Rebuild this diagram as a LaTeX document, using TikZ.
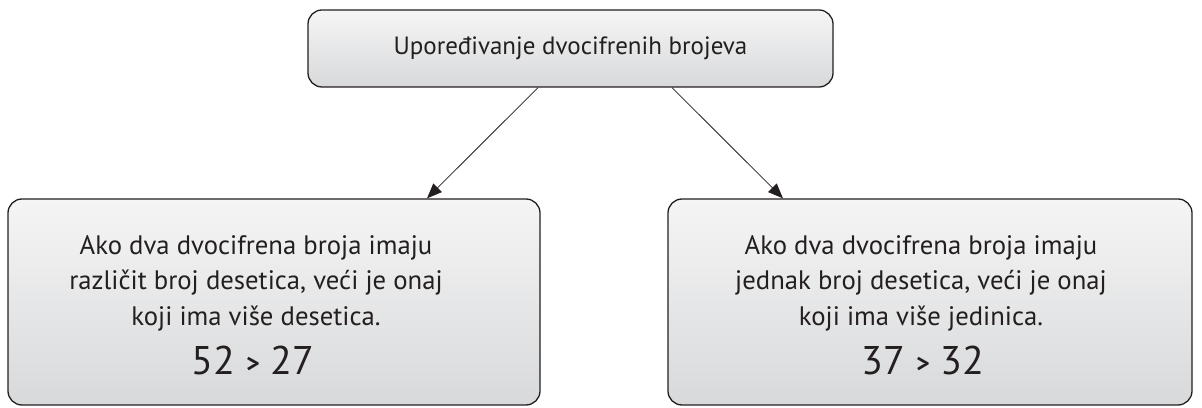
\documentclass[tikz,border=0pt]{standalone}
\usepackage{fontspec}
\setmainfont{PT Sans}
\usetikzlibrary{arrows.meta,calc}
\definecolor{ink}{HTML}{231F20}
\definecolor{boxtop}{HTML}{F5F5F6}
\definecolor{boxbot}{HTML}{D8D9DA}
\begin{document}
\begin{tikzpicture}[x=1pt,y=1pt,
 box/.style={draw=ink, line width=1.3pt, rounded corners=14pt, top color=boxtop, bottom color=boxbot, inner sep=0pt},
 title/.style={text=ink, font=\fontsize{25}{30}\selectfont},
 body/.style={text=ink, font=\fontsize{26.7}{35.5}\selectfont, align=center},
 nums/.style={text=ink, font=\fontsize{40}{40}\selectfont},
 conn/.style={draw=ink, line width=0.8pt, -{Triangle[length=15pt,width=12pt]}}]
\useasboundingbox (0,0) rectangle (1202,407);
\node[box, minimum width=525pt, minimum height=77pt] (top) at (570.5,358.5) {};
\node[title] (toptext) at (570.5,358.5) {Upoređivanje dvocifrenih brojeva};
\node[box, minimum width=532pt, minimum height=206pt] (lbox) at (274,105) {};
\node[box, minimum width=524pt, minimum height=206pt] (rbox) at (930,105) {};
\node[body] (ltext) at (256,124) {Ako dva dvocifrena broja imaju\\razli\v{c}it broj desetica, ve\'ci je onaj\\koji ima vi\v{s}e desetica.};
\node[nums] (lnum) at (253,47) {52 {\fontsize{26}{26}\selectfont\bfseries\raisebox{2pt}{>}} 27};
\node[body] (rtext) at (921,124) {Ako dva dvocifrena broja imaju\\jednak broj desetica, ve\'ci je onaj\\koji ima vi\v{s}e jedinica.};
\node[nums] (rnum) at (923,47) {37 {\fontsize{26}{26}\selectfont\bfseries\raisebox{2pt}{>}} 32};
\draw[conn] ($(top.south)+(-32.5,0)$) -- ($(lbox.north)+(153,0)$);
\draw[conn] ($(top.south)+(101.5,0)$) -- ($(rbox.north)+(-147,0)$);
\end{tikzpicture}
\end{document}
